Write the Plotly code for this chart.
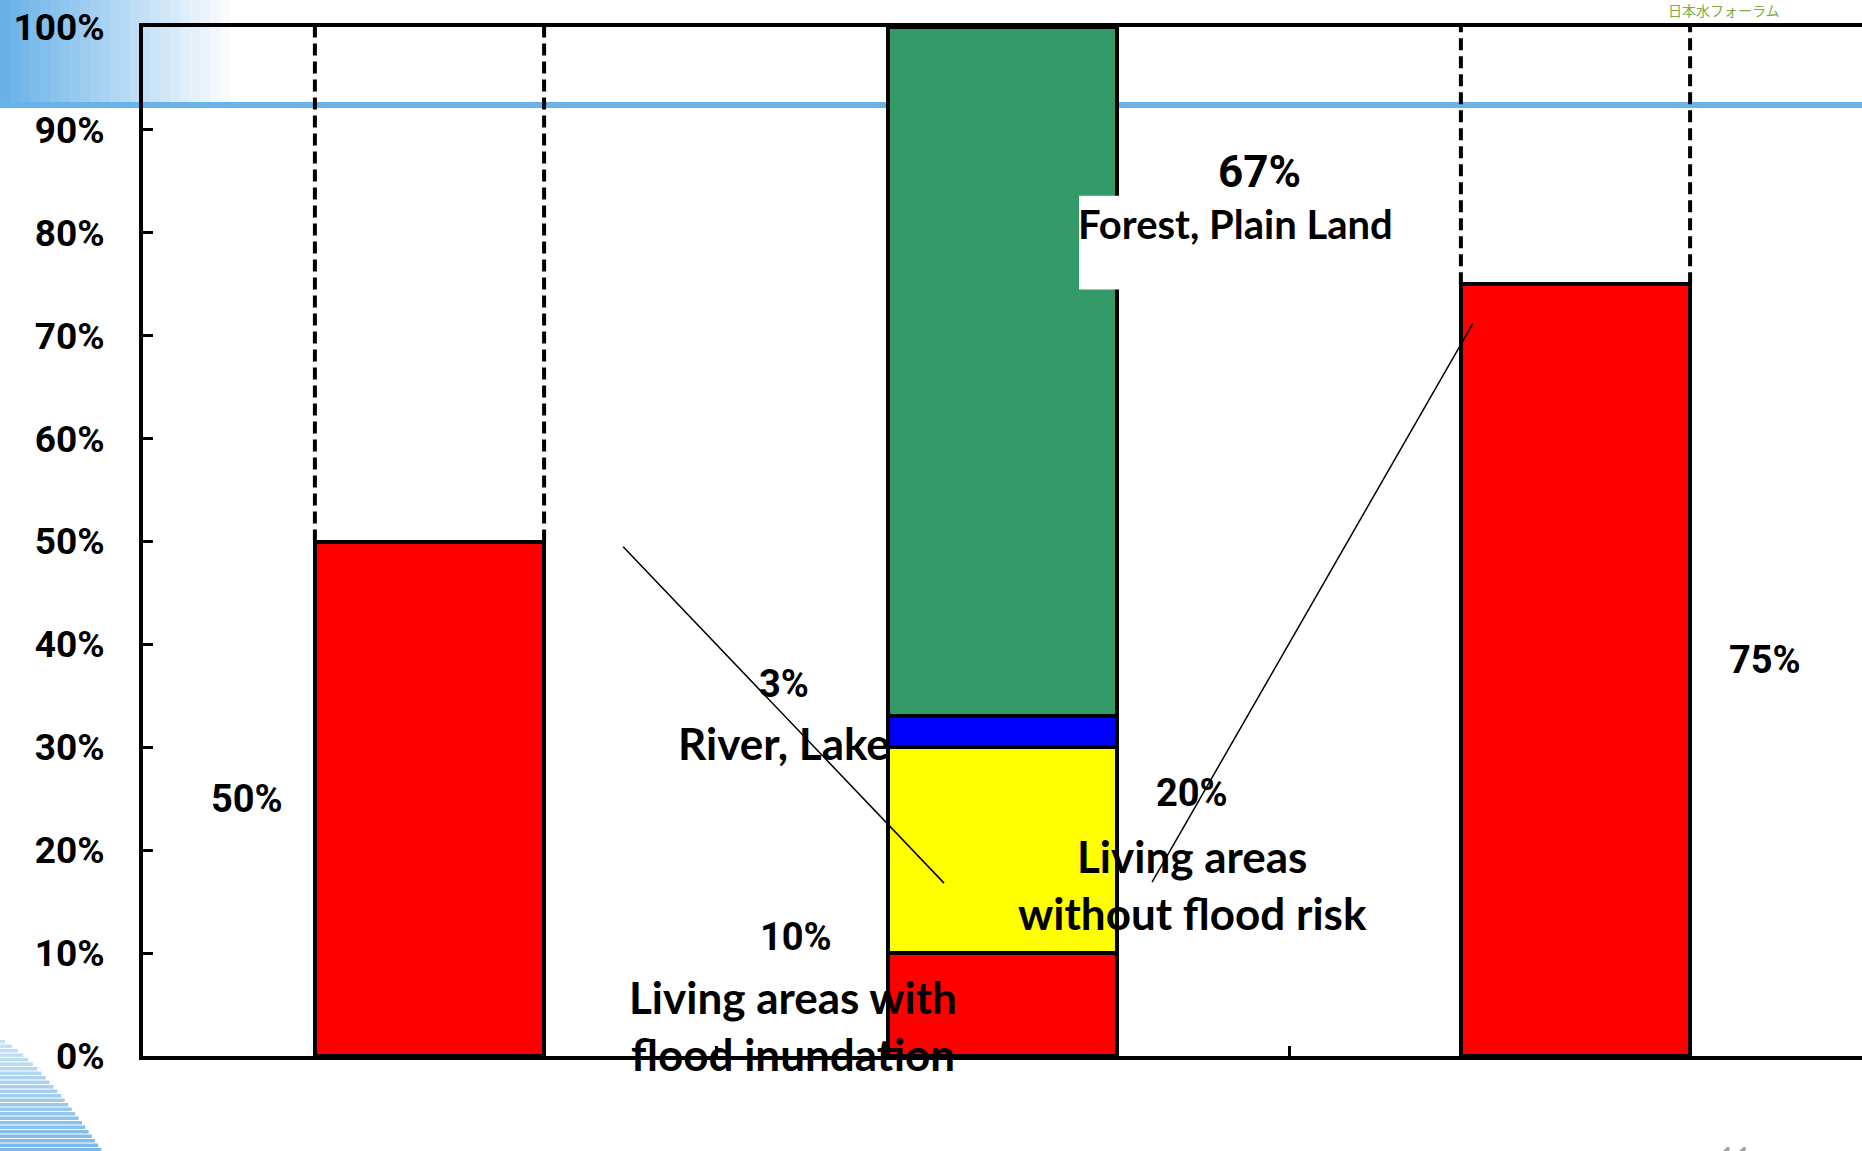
import plotly.graph_objects as go

# ---------------- data ----------------
categories = ["Population", "Land Area", "Capital"]
flood_share = [0.50, 0.10, 0.75]          # red: living areas with flood inundation
no_risk_share = [None, 0.20, None]        # yellow: living areas without flood risk
river_share = [None, 0.03, None]          # blue: river, lake
forest_share = [None, 0.67, None]         # green: forest, plain land
y_ticks = [0, 0.1, 0.2, 0.3, 0.4, 0.5, 0.6, 0.7, 0.8, 0.9, 1.0]
y_ticktext = ["0%", "10%", "20%", "30%", "40%", "50%", "60%", "70%", "80%", "90%", "100%"]

# ---------------- geometry helpers ----------------
W, H = 1862, 1151
L, R, T, B = 143, 0, 27, 95
PW, PH = W - L - R, H - T - B
BAR_W = 0.4


def px_x(p):  # pixel -> paper x
    return (p - L) / PW


def px_y(p):  # pixel -> paper y
    return (H - B - p) / PH


NUM = "Roboto, Liberation Sans, sans-serif"
LABEL = "Lato, Carlito, Calibri, sans-serif"

fig = go.Figure()
outline = dict(color="black", width=4)
fig.add_trace(go.Bar(x=categories, y=flood_share, width=BAR_W, marker=dict(color="#ff0000", line=outline)))
fig.add_trace(go.Bar(x=categories, y=no_risk_share, width=BAR_W, marker=dict(color="#ffff00", line=outline)))
fig.add_trace(go.Bar(x=categories, y=river_share, width=BAR_W, marker=dict(color="#0000ff", line=outline)))
fig.add_trace(go.Bar(x=categories, y=forest_share, width=BAR_W, marker=dict(color="#339966", line=outline)))

shapes = []
# top-left gradient decoration
n = 24
for k in range(n):
    t = k / (n - 1)
    r = int(104 + (255 - 104) * t)
    g = int(178 + (255 - 178) * t)
    b = int(232 + (255 - 232) * t)
    shapes.append(dict(type="rect", xref="paper", yref="paper", layer="below",
                       x0=px_x(k * 10), x1=px_x(k * 10 + 10.5), y0=px_y(102), y1=px_y(0),
                       fillcolor=f"rgb({r},{g},{b})", line=dict(width=0)))
# blue horizontal slide line
shapes.append(dict(type="line", xref="paper", yref="paper", layer="below",
                   x0=px_x(0), x1=px_x(W), y0=px_y(105), y1=px_y(105),
                   line=dict(color="rgb(104,180,234)", width=6)))
# bottom-left striped decoration
y_top, y_bot, x_end = 1040, 1151, 102
yy = y_top
while yy < y_bot:
    f = (yy + 2 - y_top) / (y_bot - y_top)
    xr = x_end * f ** 0.75
    r = int(200 - 80 * f)
    g = int(228 - 45 * f)
    b = int(247 - 12 * f)
    shapes.append(dict(type="rect", xref="paper", yref="paper", layer="below",
                       x0=px_x(0), x1=px_x(xr), y0=px_y(yy + 3.4), y1=px_y(yy),
                       fillcolor=f"rgb({r},{g},{b})", line=dict(width=0)))
    yy += 4.5

# dashed "100%" outline above single-value bars
for i, cat in enumerate(categories):
    total = sum(v for v in (flood_share[i], no_risk_share[i], river_share[i], forest_share[i]) if v)
    if total < 0.999:
        for side in (-1, 1):
            shapes.append(dict(type="line", xref="x", yref="y", layer="below",
                               x0=i + side * BAR_W / 2, x1=i + side * BAR_W / 2, y0=total, y1=1.0,
                               line=dict(color="black", width=4, dash="12px,6px")))
# white box behind "Forest, Plain Land"
shapes.append(dict(type="rect", xref="x", yref="y", layer="above",
                   x0=1.1335, x1=1.685, y0=0.745, y1=0.836,
                   fillcolor="white", line=dict(width=0)))
# leader lines
shapes.append(dict(type="line", xref="x", yref="y", x0=0.338, y0=0.495, x1=0.898, y1=0.168,
                   line=dict(color="black", width=1.5)))
shapes.append(dict(type="line", xref="x", yref="y", x0=1.821, y0=0.712, x1=1.261, y1=0.169,
                   line=dict(color="black", width=1.5)))

ann = []


def txt(x, y, s, size, family, weight=700, color="black", xref="x", yref="y", yanchor="middle"):
    ann.append(dict(x=x, y=y, xref=xref, yref=yref, text=s, showarrow=False,
                    xanchor="center", yanchor=yanchor,
                    font=dict(family=family, size=size, color=color, weight=weight)))


pct_labels = ["50%", "67%", "3%", "20%", "10%", "75%"]
txt(-0.318, 0.250, pct_labels[0], 38, NUM)
txt(1.449, 0.859, pct_labels[1], 44, NUM)
txt(1.406, 0.809, "Forest, Plain Land", 40, LABEL)
txt(0.619, 0.362, pct_labels[2], 38, NUM)
txt(0.619, 0.304, "River, Lake", 44, LABEL)
txt(1.331, 0.256, pct_labels[3], 38, NUM)
txt(1.331, 0.194, "Living areas", 44, LABEL)
txt(1.331, 0.139, "without flood risk", 44, LABEL)
txt(0.640, 0.116, pct_labels[4], 38, NUM)
txt(0.634, 0.057, "Living areas with", 44, LABEL)
txt(0.634, 0.002, "flood inundation", 44, LABEL)
txt(2.331, 0.385, pct_labels[5], 38, NUM)
# category labels
txt(0.0, -0.0447, categories[0], 41, LABEL, weight=400)
txt(1.013, -0.071, categories[1], 47, LABEL)
txt(2.039, -0.0496, categories[2], 47, LABEL)
# slide decorations
txt(px_x(1724), px_y(10), "日本水フォーラム", 14, "Noto Sans CJK JP", weight=400,
    color="#7aab48", xref="paper", yref="paper")
txt(px_x(1735), px_y(1138), "11", 28, LABEL, weight=400, color="#a0a0a0",
    xref="paper", yref="paper", yanchor="top")

fig.update_layout(
    width=W, height=H,
    margin=dict(l=L, r=R, t=T, b=B),
    barmode="stack", bargap=0,
    showlegend=False,
    paper_bgcolor="white", plot_bgcolor="rgba(0,0,0,0)",
    shapes=shapes, annotations=ann,
    xaxis=dict(type="category", range=[-0.5, 2.5], showticklabels=False, automargin=False,
               showline=True, linewidth=4, linecolor="black", mirror=True,
               ticks="inside", tickson="boundaries", ticklen=10, tickwidth=3, tickcolor="black",
               showgrid=False, zeroline=False),
    yaxis=dict(range=[0, 1], tickvals=y_ticks, ticktext=y_ticktext, automargin=False,
               showline=True, linewidth=4, linecolor="black",
               ticks="inside", ticklen=10, tickwidth=3, tickcolor="black",
               ticklabelstandoff=27,
               tickfont=dict(family=NUM, size=37, color="black", weight=700),
               showgrid=False, zeroline=False),
)

fig.write_html("out.html")
